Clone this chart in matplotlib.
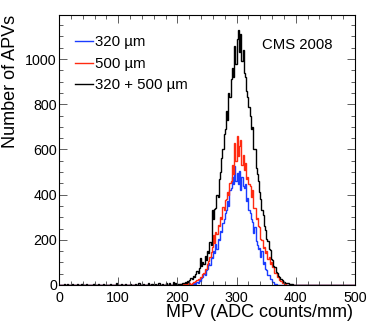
import numpy as np
import matplotlib
matplotlib.use("Agg")
import matplotlib.pyplot as plt
from matplotlib.ticker import MultipleLocator

plt.rcParams['font.family'] = ['Liberation Sans', 'DejaVu Sans']

# histogram bins: 2 ADC/mm wide from 0 to 500, core region 200-400 typed below
bin_width = 2
core_start = 200

# 320 um sensors (blue), bins 200..398
blue_core = [0, 0, 0, 0, 0, 0, 0, 1, 0, 1,
             2, 1, 4, 3, 7, 6, 14, 9, 20, 18,
             32, 36, 48, 46, 68, 72, 96, 90, 125, 118,
             150, 140, 180, 160, 205, 200, 240, 235, 275, 290,
             320, 330, 370, 350, 420, 430, 480, 445, 525, 460,
             495, 445, 505, 420, 480, 440, 430, 445, 370, 385,
             330, 320, 290, 280, 230, 255, 195, 175, 160, 165,
             125, 150, 95, 100, 70, 68, 45, 44, 28, 25,
             15, 12, 6, 5, 2, 1, 0, 0, 0, 0,
             0, 0, 0, 0, 0, 0, 0, 0, 0, 0]

# 500 um sensors (red)
red_core = [2, 0, 3, 1, 2, 4, 3, 5, 4, 7,
            8, 6, 10, 12, 14, 18, 20, 26, 28, 36,
            36, 50, 52, 72, 70, 95, 105, 125, 145, 170,
            220, 185, 235, 225, 265, 260, 300, 290, 345, 330,
            375, 380, 410, 400, 450, 460, 530, 490, 630, 550,
            660, 570, 615, 640, 530, 575, 510, 540, 470, 480,
            445, 440, 390, 420, 340, 340, 290, 295, 260, 255,
            205, 200, 165, 170, 140, 150, 115, 125, 95, 100,
            80, 80, 55, 55, 35, 35, 20, 18, 10, 8,
            5, 4, 2, 1, 0, 0, 0, 0, 0, 0]

# all sensors (black)
black_core = [3, 4, 6, 5, 8, 7, 12, 10, 18, 15,
              22, 30, 26, 38, 35, 50, 62, 55, 75, 120,
              85, 100, 95, 130, 110, 150, 140, 190, 175, 330,
              290, 335, 340, 400, 390, 470, 500, 560, 600, 670,
              690, 770, 730, 850, 830, 910, 960, 920, 1060, 980,
              1090, 1130, 1030, 1110, 990, 1040, 940, 920, 860, 830,
              790, 750, 690, 700, 600, 600, 520, 490, 460, 410,
              380, 330, 310, 260, 245, 205, 195, 160, 155, 115,
              110, 85, 80, 58, 52, 40, 36, 25, 22, 15,
              13, 10, 8, 7, 5, 4, 3, 3, 2, 1]

# sparse entries outside the core region (bin left edge, height)
tail_pos = [8, 14, 22, 30, 38, 46, 58, 66, 74, 86, 96, 104, 112, 120, 128,
            134, 142, 150, 156, 162, 168, 174, 180, 186, 192, 196, 402, 410, 420]
tail_black = [4, 3, 5, 3, 6, 4, 5, 3, 6, 4, 7, 5, 4, 6, 5,
              8, 4, 7, 6, 5, 9, 6, 10, 8, 12, 9, 2, 1, 1]

edges = np.arange(0, 500 + bin_width, bin_width)


def full_hist(core, tpos=(), tval=()):
    h = np.zeros(len(edges) - 1)
    i0 = core_start // bin_width
    h[i0:i0 + len(core)] = core
    for p, v in zip(tpos, tval):
        h[p // bin_width] = v
    return h


h_blue = full_hist(blue_core)
h_red = full_hist(red_core)
h_black = full_hist(black_core, tail_pos, tail_black)

fig = plt.figure(figsize=(3.74, 3.28), dpi=100)
ax = fig.add_axes([59 / 374, 43 / 328, 296 / 374, 270 / 328])

ax.stairs(h_blue, edges, color='#1a3cff', lw=1.0, label='320 µm')
ax.stairs(h_red, edges, color='#ff2a10', lw=1.0, label='500 µm')
ax.stairs(h_black, edges, color='black', lw=1.0, label='320 + 500 µm')

ax.set_xlim(0, 500)
ax.set_ylim(0, 1195)
ax.xaxis.set_major_locator(MultipleLocator(100))
ax.xaxis.set_minor_locator(MultipleLocator(20))
ax.yaxis.set_major_locator(MultipleLocator(200))
ax.yaxis.set_minor_locator(MultipleLocator(50))
ax.tick_params(which='both', direction='in', top=True, right=True,
               labelsize=10.3, width=0.6, color='#444444')
ax.tick_params(which='major', length=5.8)
ax.tick_params(which='minor', length=2.9)
ax.tick_params(axis='x', pad=4)
ax.tick_params(axis='y', pad=1.5)
for s in ax.spines.values():
    s.set_linewidth(0.8)

fig.text(353 / 374, 0.034, 'MPV (ADC counts/mm)', ha='right', va='baseline',
         fontsize=13)
fig.text(0.006, 0.954, 'Number of APVs', rotation=90, ha='left', va='top',
         fontsize=13)

ax.text(0.925, 0.89, 'CMS 2008', transform=ax.transAxes, ha='right',
        va='center', fontsize=10.7)

ax.legend(loc='upper left', bbox_to_anchor=(0.055, 0.925), frameon=False,
          fontsize=10.8, handlelength=1.15, handletextpad=0.15,
          labelspacing=0.5, borderpad=0, borderaxespad=0)

plt.savefig("out.png", dpi=100)
